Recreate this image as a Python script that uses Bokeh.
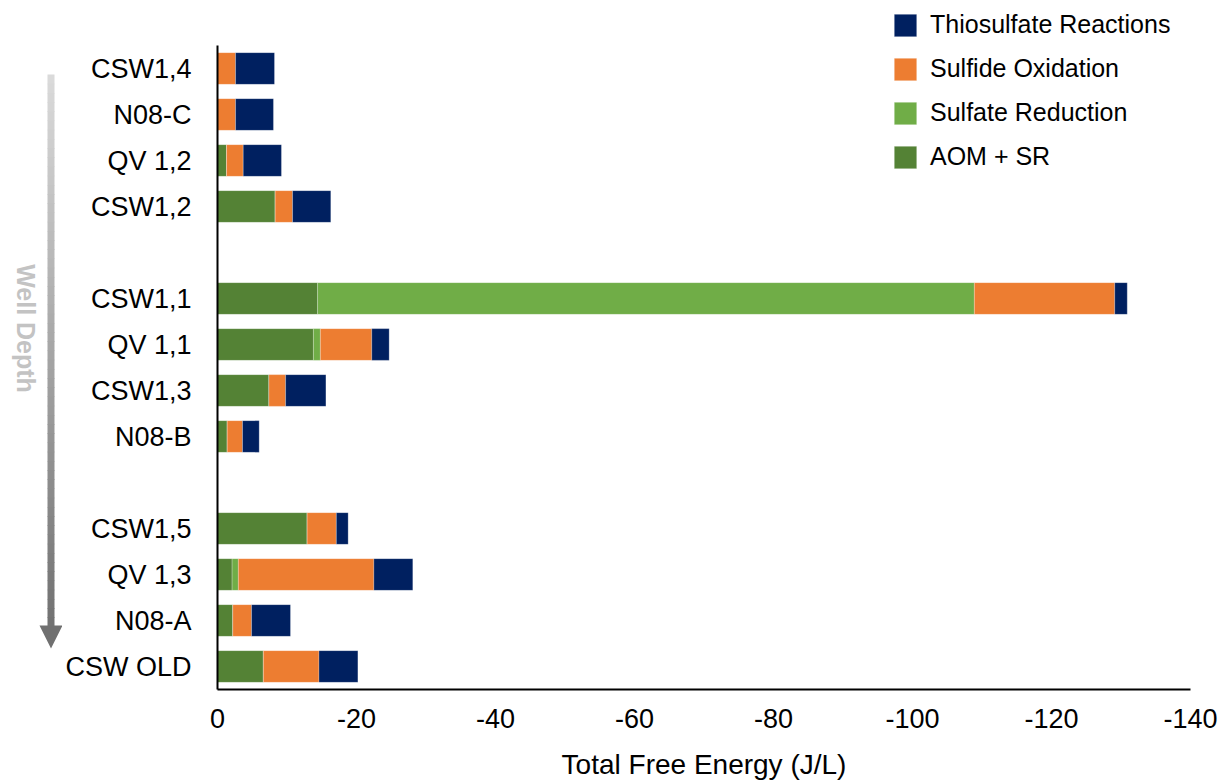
import math
from bokeh.plotting import figure
from bokeh.layouts import row
from bokeh.models import (Range1d, FixedTicker, Legend, LegendItem, ColumnDataSource)
from bokeh.core.properties import value
from bokeh.embed import file_html
from bokeh.resources import INLINE

# ---- data (top to bottom; blank rows separate the well groups) ----
samples = ["CSW1,4", "N08-C", "QV 1,2", "CSW1,2", "",
           "CSW1,1", "QV 1,1", "CSW1,3", "N08-B", "",
           "CSW1,5", "QV 1,3", "N08-A", "CSW OLD"]
aom_sr = [0, 0, -1.3, -8.3, 0, -14.4, -13.8, -7.4, -1.4, 0, -12.9, -2.1, -2.2, -6.6]
sulfate_red = [0, 0, 0, 0, 0, -94.5, -1.0, 0, 0, 0, 0, -0.9, 0, 0]
sulfide_ox = [-2.6, -2.6, -2.4, -2.5, 0, -20.2, -7.4, -2.4, -2.2, 0, -4.2, -19.5, -2.7, -8.0]
thiosulfate = [-5.6, -5.45, -5.5, -5.5, 0, -1.8, -2.5, -5.8, -2.4, 0, -1.7, -5.6, -5.6, -5.6]
x_ticks = [0, -20, -40, -60, -80, -100, -120, -140]

series = ["aom", "sr", "so", "thio"]
names = ["AOM + SR", "Sulfate Reduction", "Sulfide Oxidation", "Thiosulfate Reactions"]
colors = ["#548235", "#70ad47", "#ed7d31", "#002060"]

pos = list(range(len(samples)))
src = ColumnDataSource(dict(pos=pos, aom=aom_sr, sr=sulfate_red,
                            so=sulfide_ox, thio=thiosulfate))

FONT = "Liberation Sans"
H = 782          # total height
LEFT_W = 62      # width of the decoration strip with the depth arrow
TOP = 2          # frame top (page px)
BOTTOM = 689     # frame bottom (page px)
SLOT = 46.0      # px per category row

# ---- main chart ----
n = len(samples)
p = figure(x_range=Range1d(0, -140),
           y_range=Range1d(n - 0.5, -(68 - TOP) / SLOT),
           frame_width=973, frame_height=BOTTOM - TOP,
           min_border_left=216 - LEFT_W, min_border_top=TOP, min_border_right=30,
           min_border_bottom=H - BOTTOM,
           output_backend="svg", toolbar_location=None)

rs = p.hbar_stack(series, y="pos", height=0.69, color=colors, source=src,
                  line_color="white", line_alpha=0.4, line_width=0.6)

p.outline_line_color = None
p.xgrid.visible = False
p.ygrid.visible = False

xa = p.xaxis[0]
xa.ticker = FixedTicker(ticks=x_ticks)
xa.major_label_overrides = {t: str(t) for t in x_ticks}
xa.axis_label = "Total Free Energy (J/L)"
xa.axis_label_text_font = FONT
xa.axis_label_text_font_style = "normal"
xa.axis_label_text_font_size = "28px"
xa.axis_label_text_color = "black"
xa.axis_label_standoff = 18
xa.major_label_text_font = FONT
xa.major_label_text_font_size = "27px"
xa.major_label_text_color = "black"
xa.major_label_standoff = 13
xa.major_tick_line_color = None
xa.minor_tick_line_color = None
xa.axis_line_color = "black"
xa.axis_line_width = 2

ya = p.yaxis[0]
ya.ticker = FixedTicker(ticks=[i for i, s in enumerate(samples) if s])
ya.major_label_overrides = {i: s for i, s in enumerate(samples) if s}
ya.bounds = (-0.5, n - 0.5)
ya.major_label_text_font = FONT
ya.major_label_text_font_size = "27px"
ya.major_label_text_color = "black"
ya.major_label_standoff = 20
ya.major_tick_line_color = None
ya.minor_tick_line_color = None
ya.axis_line_color = "black"
ya.axis_line_width = 2

items = [LegendItem(label=names[i], renderers=[rs[i]]) for i in [3, 2, 1, 0]]
leg = Legend(items=items, location=(674, 518), padding=0, margin=0,
             glyph_width=28, glyph_height=28, label_height=28, spacing=15,
             label_standoff=11, label_text_font=FONT, label_text_font_size="25px",
             label_text_color="black", background_fill_alpha=0,
             border_line_color=None)
p.add_layout(leg)

# ---- decoration strip: "Well Depth" arrow (page-pixel coordinates) ----
d = figure(width=LEFT_W, height=H, x_range=Range1d(0, LEFT_W),
           y_range=Range1d(0, BOTTOM - TOP),
           min_border_left=0, min_border_right=0,
           min_border_top=TOP, min_border_bottom=H - BOTTOM,
           output_backend="svg", toolbar_location=None)
d.axis.visible = False
d.grid.visible = False
d.outline_line_color = None


def py(y):
    return BOTTOM - y


top_y, bot_y, steps = 74, 626, 60
c0, c1 = 218, 114
tops, bots, cols = [], [], []
for i in range(steps):
    y0 = top_y + (bot_y - top_y) * i / steps
    y1 = top_y + (bot_y - top_y) * (i + 1) / steps + 0.6
    g = int(round(c0 + (c1 - c0) * i / (steps - 1)))
    tops.append(py(y0))
    bots.append(py(y1))
    cols.append("#%02x%02x%02x" % (g, g, g))
d.quad(left=47, right=54, top=tops, bottom=bots, fill_color=cols, line_color=None)
d.patch(x=[39, 62, 50.5], y=[py(625), py(625), py(648)], fill_color="#707070",
        line_color=None)
d.text(x=[25], y=[py(328)], text=["Well Depth"], angle=-math.pi / 2,
       text_align="center", text_baseline="middle", text_font=value(FONT),
       text_font_style="bold", text_font_size="25px", text_color="#c3c3c3")

layout = row(d, p, spacing=0)
open("out.html", "w").write(file_html(layout, INLINE))
